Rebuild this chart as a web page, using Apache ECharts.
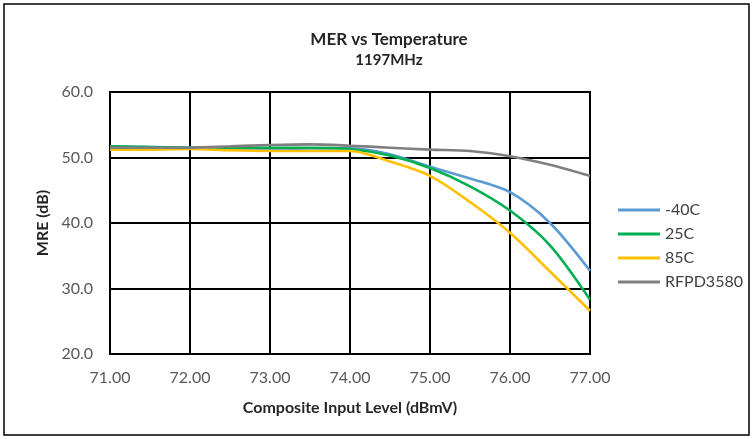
<!DOCTYPE html>
<html>
<head>
<meta charset="utf-8">
<script src="https://cdn.jsdelivr.net/npm/echarts@6/dist/echarts.min.js"></script>
<style>
  html, body { margin: 0; padding: 0; background: #fff; }
  #chart { width: 753px; height: 439px; }
</style>
</head>
<body>
<div id="chart"></div>
<script>
const FONT = 'Lato, "Noto Sans", sans-serif'

// x positions (dBmV) and MER values (dB)
const inputLevel = [71, 71.5, 72, 72.5, 73, 73.5, 74, 74.5, 75, 75.5, 76, 76.5, 77]
const merMinus40 = [51.7, 51.6, 51.5, 51.4, 51.3, 51.4, 51.4, 50.5, 48.6, 46.8, 44.7, 40.0, 32.7]
const mer25 = [51.7, 51.6, 51.5, 51.5, 51.5, 51.5, 51.3, 50.3, 48.4, 45.6, 41.9, 36.6, 28.3]
const mer85 = [51.2, 51.2, 51.3, 51.1, 51.0, 51.0, 51.0, 49.4, 47.2, 43.2, 38.5, 32.6, 26.6]
const merRfpd = [51.5, 51.5, 51.5, 51.7, 51.9, 52.0, 51.8, 51.5, 51.2, 51.0, 50.2, 48.9, 47.2]

const seriesNames = ['-40C', '25C', '85C', 'RFPD3580']
const seriesColors = ['#5B9BD5', '#00B050', '#FFC000', '#7F7F7F']
const seriesValues = [merMinus40, mer25, mer85, merRfpd]

const chart = echarts.init(document.getElementById('chart'))

const series = seriesNames.map((name, i) => ({
  name: name,
  type: 'line',
  smooth: 0.3,
  showSymbol: false,
  lineStyle: { color: seriesColors[i], width: 2.6 },
  itemStyle: { color: seriesColors[i] },
  data: inputLevel.map((x, k) => [x, seriesValues[i][k]]),
}))

chart.setOption({
  backgroundColor: '#fff',
  animation: false,
  title: {
    text: 'MER vs Temperature',
    subtext: '1197MHz',
    left: 384,
    top: 26,
    textAlign: 'center',
    itemGap: 5,
    textStyle: { fontFamily: FONT, fontSize: 17, fontWeight: 'bold', color: '#262626' },
    subtextStyle: { fontFamily: FONT, fontSize: 15, fontWeight: 'bold', color: '#262626' },
  },
  graphic: [
    {
      type: 'rect',
      shape: { x: 4, y: 4, width: 745, height: 431 },
      style: { fill: 'none', stroke: '#000', lineWidth: 1.5 },
      silent: true,
    },
  ],
  legend: {
    orient: 'vertical',
    left: 613,
    top: 197,
    icon: 'rect',
    itemWidth: 42,
    itemHeight: 3,
    itemGap: 8,
    textStyle: { fontFamily: FONT, fontSize: 16, color: '#404040' },
    data: seriesNames,
  },
  grid: {
    left: 110,
    right: 163,
    top: 92,
    bottom: 85,
    show: true,
    borderColor: '#000',
    borderWidth: 2,
  },
  xAxis: {
    type: 'value',
    min: 71,
    max: 77,
    interval: 1,
    name: 'Composite Input Level (dBmV)',
    nameLocation: 'middle',
    nameGap: 46,
    nameTextStyle: { fontFamily: FONT, fontSize: 16, fontWeight: 'bold', color: '#262626' },
    axisLine: { show: true, lineStyle: { color: '#000', width: 2 } },
    axisTick: { show: false },
    axisLabel: {
      fontFamily: FONT, fontSize: 16, color: '#595959', margin: 16,
      formatter: (v) => v.toFixed(2),
    },
    splitLine: { show: true, lineStyle: { color: '#000', width: 2 } },
  },
  yAxis: {
    type: 'value',
    min: 20,
    max: 60,
    interval: 10,
    name: 'MRE (dB)',
    nameLocation: 'middle',
    nameGap: 59,
    nameTextStyle: { fontFamily: FONT, fontSize: 16, fontWeight: 'bold', color: '#262626' },
    axisLine: { show: true, lineStyle: { color: '#000', width: 2 } },
    axisTick: { show: false },
    axisLabel: {
      fontFamily: FONT, fontSize: 16, color: '#595959', margin: 17,
      formatter: (v) => v.toFixed(1),
    },
    splitLine: { show: true, lineStyle: { color: '#000', width: 2 } },
  },
  series: series,
})
</script>
</body>
</html>
